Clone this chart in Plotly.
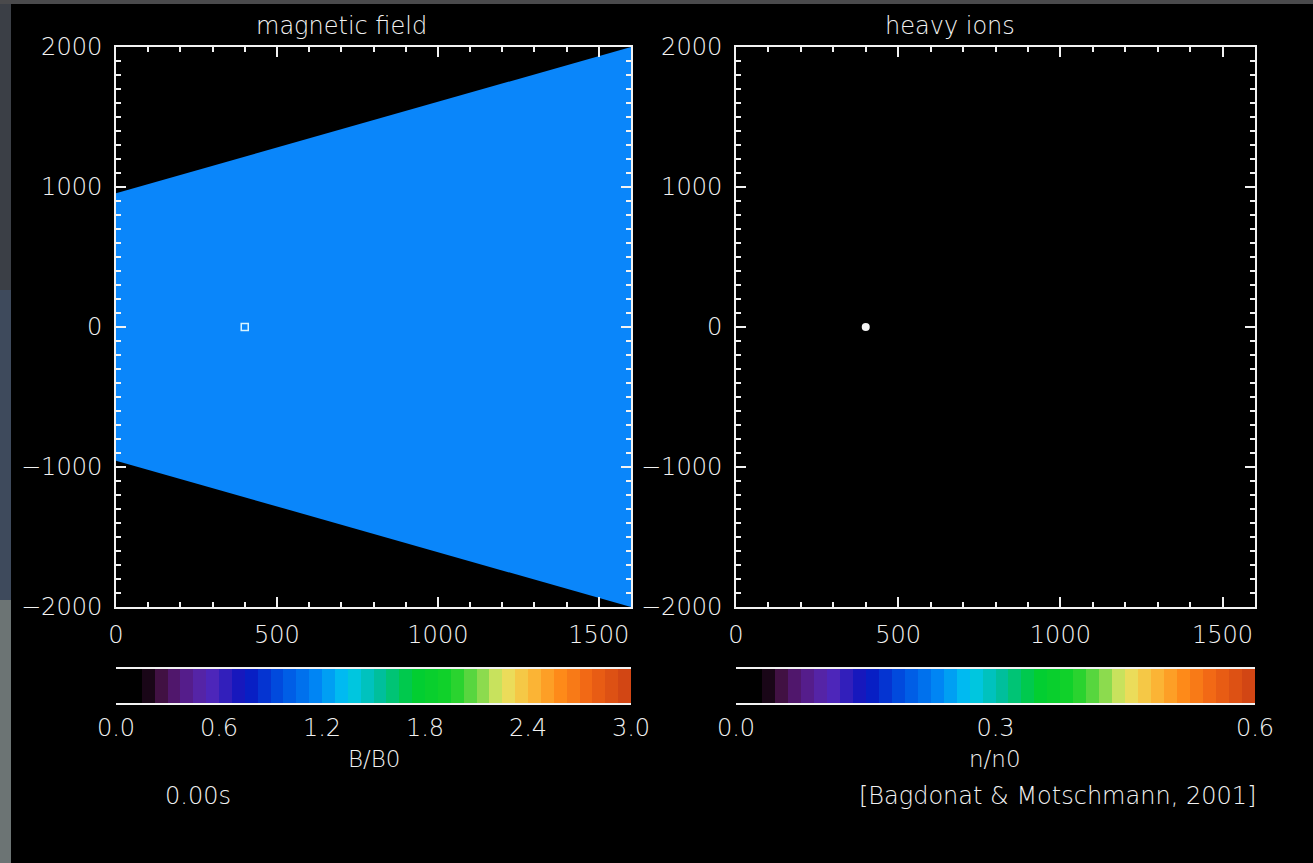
import numpy as np
import plotly.graph_objects as go

W, H = 1313, 863

# ---------------- data ----------------
# magnetic-field cone (Mach cone boundary), x in simulation units
cone_x = [0, 1600]
cone_top = [955, 2000]
cone_bottom = [-955, -2000]
# comet position
comet_x = [400]
comet_y = [0]
# axis ticks
x_ticks = [0, 500, 1000, 1500]
y_ticks = [-2000, -1000, 0, 1000, 2000]
y_ticktext = ["\u22122000", "\u22121000", "0", "1000", "2000"]
# colour keys
b_ticks = [0.0, 0.6, 1.2, 1.8, 2.4, 3.0]
b_ticktext = ["0.0", "0.6", "1.2", "1.8", "2.4", "3.0"]
n_ticks = [0.0, 0.3, 0.6]
n_ticktext = ["0.0", "0.3", "0.6"]
b_max = 3.0
n_max = 0.6

fg = "#f2f2f2"
cone_color = "#0a86fa"
font_family = "DejaVu Sans"
FS = 24

rainbow = [
    [0.00, "rgb(0,0,0)"],
    [0.05, "rgb(0,0,0)"],
    [0.08, "rgb(60,15,55)"],
    [0.12, "rgb(85,25,120)"],
    [0.18, "rgb(85,40,185)"],
    [0.25, "rgb(10,20,190)"],
    [0.32, "rgb(0,80,225)"],
    [0.39, "rgb(0,135,245)"],
    [0.45, "rgb(0,200,240)"],
    [0.51, "rgb(0,190,160)"],
    [0.58, "rgb(0,205,50)"],
    [0.65, "rgb(20,210,40)"],
    [0.70, "rgb(110,215,70)"],
    [0.75, "rgb(230,230,100)"],
    [0.80, "rgb(250,190,60)"],
    [0.86, "rgb(255,140,25)"],
    [0.92, "rgb(240,100,20)"],
    [1.00, "rgb(205,65,20)"],
]

# ---------------- geometry (pixels -> paper) ----------------
def px(x):
    return x / W

def py(y):
    return 1 - y / H

L = (116, 631)
R = (736, 1255)
P_TOP, P_BOT = 47, 607
C_TOP, C_BOT = 669, 703

fig = go.Figure()

# magnetic field cone
fig.add_trace(go.Scatter(
    x=cone_x + cone_x[::-1], y=cone_top + cone_bottom[::-1],
    fill="toself", fillcolor=cone_color, mode="lines",
    line=dict(width=0, color=cone_color), hoverinfo="skip",
    xaxis="x", yaxis="y", showlegend=False))
fig.add_trace(go.Scatter(
    x=comet_x, y=comet_y, mode="markers",
    marker=dict(symbol="square-open", size=7, color="#d8f4ff", line=dict(width=1.5, color="#d8f4ff")),
    xaxis="x", yaxis="y", showlegend=False))

# heavy ions (only the source near the comet is visible)
fig.add_trace(go.Scatter(
    x=comet_x, y=comet_y, mode="markers",
    marker=dict(symbol="circle", size=8, color="#f4f4f4", line=dict(width=0)),
    xaxis="x2", yaxis="y2", showlegend=False))

# colour keys
nb = 40
b_levels = np.linspace(0, b_max, nb + 1)
b_centers = (b_levels[:-1] + b_levels[1:]) / 2
fig.add_trace(go.Heatmap(
    x=b_centers, y=[0.5], z=[b_centers], zmin=0, zmax=b_max,
    colorscale=rainbow, showscale=False, hoverinfo="skip",
    xaxis="x3", yaxis="y3"))
n_levels = np.linspace(0, n_max, nb + 1)
n_centers = (n_levels[:-1] + n_levels[1:]) / 2
fig.add_trace(go.Heatmap(
    x=n_centers, y=[0.5], z=[n_centers], zmin=0, zmax=n_max,
    colorscale=rainbow, showscale=False, hoverinfo="skip",
    xaxis="x4", yaxis="y4"))

tickfont = dict(family=font_family, size=FS, color=fg, weight=200)

def main_x(domain, anchor):
    return dict(domain=domain, anchor=anchor, range=[0, 1600],
                showline=True, linecolor=fg, linewidth=2, mirror="ticks",
                ticks="inside", ticklen=10, tickwidth=1.5, tickcolor=fg,
                tickvals=x_ticks, ticktext=[str(v) for v in x_ticks],
                minor=dict(dtick=100, ticklen=5, tickwidth=1.5, tickcolor=fg, ticks="inside"),
                showgrid=False, zeroline=False, tickfont=tickfont,
                ticklabelstandoff=5, fixedrange=True)

def main_y(domain, anchor):
    return dict(domain=domain, anchor=anchor, range=[-2000, 2000],
                showline=True, linecolor=fg, linewidth=2, mirror="ticks",
                ticks="inside", ticklen=10, tickwidth=1.5, tickcolor=fg,
                tickvals=y_ticks, ticktext=y_ticktext,
                minor=dict(dtick=100, ticklen=5, tickwidth=1.5, tickcolor=fg, ticks="inside"),
                showgrid=False, zeroline=False, tickfont=tickfont,
                ticklabelstandoff=7, fixedrange=True)

def key_x(domain, anchor, rng, tv, tt):
    return dict(domain=domain, anchor=anchor, range=rng,
                showline=True, linecolor=fg, linewidth=2, mirror=True,
                ticks="", tickvals=tv, ticktext=tt, showgrid=False, zeroline=False,
                tickfont=tickfont, ticklabelstandoff=2, fixedrange=True)

def key_y(domain, anchor):
    return dict(domain=domain, anchor=anchor, range=[0, 1], visible=False,
                showgrid=False, zeroline=False, fixedrange=True)

ydom = [py(P_BOT), py(P_TOP)]
cdom = [py(C_BOT), py(C_TOP)]

fig.update_layout(
    width=W, height=H,
    margin=dict(l=0, r=0, t=0, b=0, pad=0, autoexpand=False),
    paper_bgcolor="black", plot_bgcolor="black",
    font=dict(family=font_family, color=fg, size=FS, weight=200),
    showlegend=False,
    xaxis=main_x([px(L[0]), px(L[1])], "y"),
    yaxis=main_y(ydom, "x"),
    xaxis2=main_x([px(R[0]), px(R[1])], "y2"),
    yaxis2=main_y(ydom, "x2"),
    xaxis3=key_x([px(L[0]), px(L[1])], "y3", [0, b_max], b_ticks, b_ticktext),
    yaxis3=key_y(cdom, "x3"),
    xaxis4=key_x([px(R[0]), px(R[1])], "y4", [0, n_max], n_ticks, n_ticktext),
    yaxis4=key_y(cdom, "x4"),
)

def label(text, x, y, xanchor="center", size=FS):
    fig.add_annotation(text=text, x=px(x), y=py(y), xref="paper", yref="paper",
                       xanchor=xanchor, yanchor="middle", showarrow=False,
                       font=dict(family=font_family, size=size, color=fg, weight=200))

label("magnetic field", 341, 26)
label("heavy ions", 950, 26)
label("B/B0", 374, 759, size=23)
label("n/n0", 995, 759, size=23)
label("0.00s", 198, 796)
label("[Bagdonat &amp; Motschmann, 2001]", 1258, 796, xanchor="right")

# photo border around the frame (grey strip at left and top)
strips = [(0, 0, 11, 290, "#3b3f46"), (0, 290, 11, 600, "#3e4a5c"),
          (0, 600, 11, 863, "#6c7474"), (0, 0, W, 4, "#4a4a4c")]
for x0, y0, x1, y1, c in strips:
    fig.add_shape(type="rect", xref="paper", yref="paper",
                  x0=px(x0), x1=px(x1), y0=py(y1), y1=py(y0),
                  fillcolor=c, line=dict(width=0), layer="below")

fig.write_html(
    "out.html",
    config={"displayModeBar": False},
    post_script="document.body.style.margin='0px';document.body.style.overflow='hidden';document.body.style.background='black';",
)
